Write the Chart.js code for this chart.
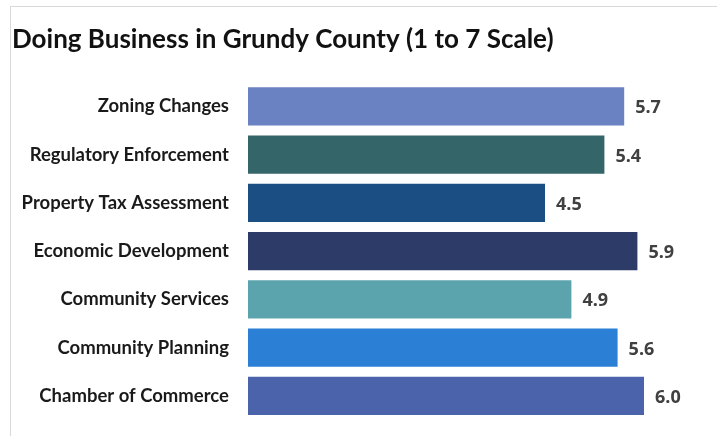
<!DOCTYPE html>
<html>
<head>
<meta charset="utf-8">
<script src="https://cdn.jsdelivr.net/npm/chart.js@4"></script>
<style>
  body { margin: 0; background: #fff; }
  .frame { position: absolute; left: 10px; top: 6px; width: 720px; height: 440px;
           border-left: 1px solid #d9d9d9; border-top: 1px solid #d9d9d9; }
  #chart { position: absolute; left: 0; top: 0; }
</style>
</head>
<body>
<div class="frame"></div>
<canvas id="chart" width="717" height="436"></canvas>
<script>
const categories = [
    "Zoning Changes",
    "Regulatory Enforcement",
    "Property Tax Assessment",
    "Economic Development",
    "Community Services",
    "Community Planning",
    "Chamber of Commerce"
];
const scores = [5.7, 5.4, 4.5, 5.9, 4.9, 5.6, 6.0];
const barColors = ["#6B82C2", "#346569", "#1B4E82", "#2C3B68", "#5CA4AD", "#2B80D6", "#4A63AB"];

// write value next to each bar
const valueLabels = {
    id: "valueLabels",
    afterDatasetsDraw(chart) {
        const ctx = chart.ctx;
        const meta = chart.getDatasetMeta(0);
        ctx.save();
        ctx.font = "bold 18px 'Open Sans'";
        ctx.fillStyle = "#404040";
        ctx.textAlign = "left";
        ctx.textBaseline = "middle";
        meta.data.forEach((bar, i) => {
            ctx.fillText(scores[i].toFixed(1), bar.x + 11, bar.y + 2);
        });
        ctx.restore();
    }
};

const ctx2d = document.getElementById("chart").getContext("2d");
const myChart = new Chart(ctx2d, {
    type: "bar",
    data: {
        labels: categories,
        datasets: [{
            data: scores,
            backgroundColor: barColors,
            borderWidth: 0,
            barPercentage: 0.79,
            categoryPercentage: 1
        }]
    },
    options: {
        indexAxis: "y",
        responsive: false,
        animation: false,
        layout: { padding: { left: 12, right: 7, top: 0, bottom: 16 } },
        plugins: {
            legend: { display: false },
            tooltip: { enabled: false },
            title: {
                display: true,
                text: "Doing Business in Grundy County (1 to 7 Scale)",
                align: "start",
                color: "#111",
                font: { family: "Lato", size: 26, weight: "bold", lineHeight: 1.2 },
                padding: { top: 24, bottom: 27 }
            }
        },
        scales: {
            x: { display: false, min: 0, max: 7 },
            y: {
                // tick marks hidden, their length only spaces labels from bars
                grid: { display: false, drawTicks: true, tickLength: 19 },
                border: { display: false },
                ticks: {
                    padding: 0,
                    color: "#1a1a1a",
                    font: { family: "Lato", size: 18.5, weight: "bold" }
                },
                afterFit: scale => { scale.width = 236; }
            }
        }
    },
    plugins: [valueLabels]
});
</script>
</body>
</html>
